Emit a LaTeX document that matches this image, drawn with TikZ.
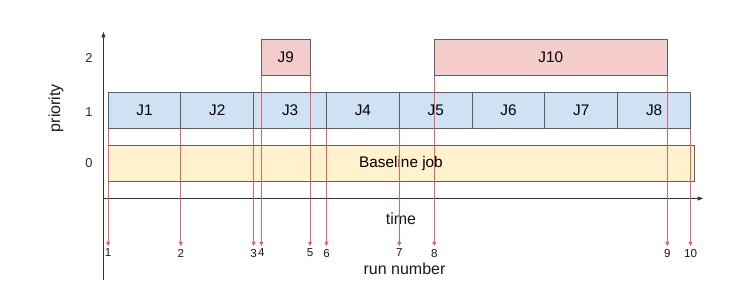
\documentclass[tikz,border=0pt]{standalone}
\usepackage{fontspec}
\setmainfont{Liberation Sans}
\usepackage{xcolor}
\usepackage{tikz}
\usetikzlibrary{positioning, arrows.meta}

\definecolor{jobblue}{HTML}{CFE2F3}
\definecolor{jobpink}{HTML}{F4CCCC}
\definecolor{jobyellow}{HTML}{FFF2CC}
\definecolor{boxline}{HTML}{5F5F5F}
\definecolor{runred}{HTML}{E06666}

\begin{document}
\begin{tikzpicture}[x=0.75pt, y=-0.75pt,
    job/.style={draw=boxline, line width=0.75pt, rectangle, inner sep=0pt, outer sep=0pt, minimum height=27.4pt, font=\fontsize{11.5}{13}\selectfont},
    lowjob/.style={job, fill=jobblue, minimum width=54.6pt},
    highjob/.style={job, fill=jobpink},
    axis/.style={draw=black!80, line width=0.6pt, -{Triangle[length=4pt, width=3pt]}},
    run/.style={draw=runred, line width=0.7pt, -{Triangle[length=3pt, width=3pt]}},
    runnum/.style={inner sep=2pt, font=\fontsize{8.7}{10}\selectfont, text=black!90},
    tick/.style={font=\fontsize{9.6}{12}\selectfont, text=black!85},
    axislabel/.style={font=\fontsize{12}{14}\selectfont, text=black!90}]

  \useasboundingbox (0,0) rectangle (748,304);

  % axes
  \coordinate (origin) at (103.5,280);
  \coordinate (ytop) at (103.5,32);
  \coordinate (xleft) at (103.5,198.5);
  \coordinate (xright) at (703,198.5);
  \draw[axis] (origin) -- (ytop);
  \draw[axis] (xleft) -- (xright);

  \node[axislabel, rotate=90] (prio) at (56,108) {priority};
  \node[tick] (p2) at (89,58.5) {2};
  \node[tick] (p1) at (89,112) {1};
  \node[tick] (p0) at (89,163) {0};
  \node[axislabel] (time) at (401,219) {time};
  \node[axislabel] (runs) at (404.5,269) {run number};

  % priority 1
  \node[lowjob] (j1) at (144.5,110.5) {J1};
  \node[lowjob, right=0pt of j1] (j2) {J2};
  \node[lowjob, right=0pt of j2] (j3) {J3};
  \node[lowjob, right=0pt of j3] (j4) {J4};
  \node[lowjob, right=0pt of j4] (j5) {J5};
  \node[lowjob, right=0pt of j5] (j6) {J6};
  \node[lowjob, right=0pt of j6] (j7) {J7};
  \node[lowjob, right=0pt of j7] (j8) {J8};

  % priority 2
  \node[highjob, minimum width=36.5pt] (j9) at (285.7,57.7) {J9};
  \node[highjob, minimum width=174.8pt] (j10) at (550.8,57.7) {J10};

  % priority 0
  \node[job, fill=jobyellow, minimum width=439.5pt] (base) at (401,163.7) {Baseline job};

  % runs
  \node[runnum] (r1) at (j1.south west |- 0,253) {1};
  \node[runnum] (r2) at (j1.south east |- 0,253) {2};
  \node[runnum] (r3) at (j2.south east |- 0,253) {3};
  \node[runnum] (r4) at (j9.south west |- 0,253) {4};
  \node[runnum] (r5) at (j9.south east |- 0,253) {5};
  \node[runnum] (r6) at (j3.south east |- 0,253) {6};
  \node[runnum] (r7) at (j4.south east |- 0,253) {7};
  \node[runnum] (r8) at (j10.south west |- 0,253) {8};
  \node[runnum] (r9) at (j10.south east |- 0,253) {9};
  \node[runnum] (r10) at (j8.south east |- 0,253) {10};

  \draw[run] (j1.south west) -- (r1.north);
  \draw[run] (j1.south east) -- (r2.north);
  \draw[run] (j2.south east) -- (r3.north);
  \draw[run] (j9.south west) -- (r4.north);
  \draw[run] (j9.south east) -- (r5.north);
  \draw[run] (j3.south east) -- (r6.north);
  \draw[run] (j4.south east) -- (r7.north);
  \draw[run] (j10.south west) -- (r8.north);
  \draw[run] (j10.south east) -- (r9.north);
  \draw[run] (j8.south east) -- (r10.north);
\end{tikzpicture}
\end{document}
